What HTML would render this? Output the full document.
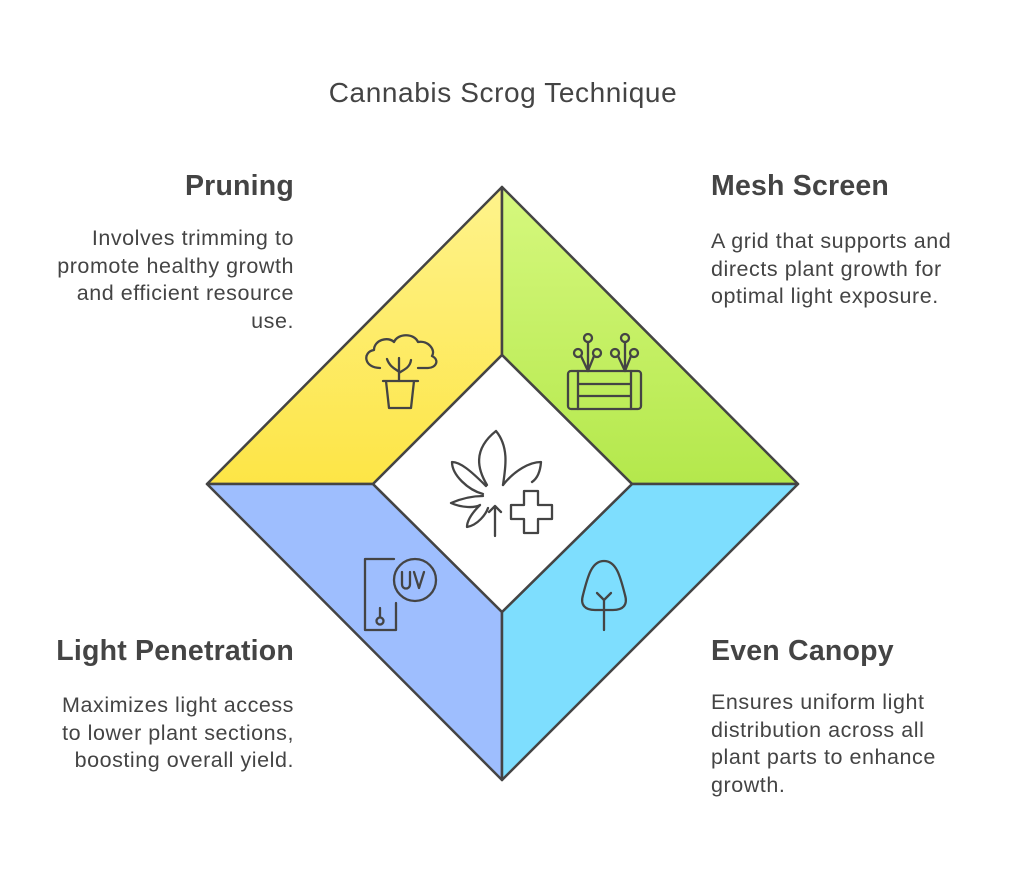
<!DOCTYPE html>
<html><head><meta charset="utf-8"><style>
html,body{margin:0;padding:0;background:#fff}
body{width:1024px;height:876px;position:relative;font-family:"Liberation Sans",sans-serif;color:#444}
.t{position:absolute;white-space:nowrap}
.h{font-weight:bold;font-size:28.5px;color:#444;letter-spacing:0.2px}
.b{font-size:21.5px;line-height:27.5px;color:#444;letter-spacing:0.55px}
.r{text-align:right}
</style></head><body>
<svg width="1024" height="876" style="position:absolute;left:0;top:0">
<defs>
<linearGradient id="y" x1="0" y1="0" x2="0" y2="1"><stop offset="0" stop-color="#FEF38C"/><stop offset="1" stop-color="#FDE546"/></linearGradient>
<linearGradient id="g" x1="0" y1="0" x2="0" y2="1"><stop offset="0" stop-color="#D6F87E"/><stop offset="1" stop-color="#B4E84C"/></linearGradient>
</defs>
<g stroke="#444" stroke-width="2.5" stroke-linejoin="round">
<polygon points="502,187 502,355 373,484 207,484" fill="url(#y)"/>
<polygon points="502,187 798,484 632,484 502,355" fill="url(#g)"/>
<polygon points="207,484 373,484 502,612 502,780" fill="#9EBEFE"/>
<polygon points="632,484 798,484 502,780 502,612" fill="#7EDEFE"/>
<polygon points="502,355 632,484 502,612 373,484" fill="#fff"/>
</g>
<g fill="none" stroke="#444" stroke-width="2.3" stroke-linecap="round" stroke-linejoin="round">
<path d="M380,368 C364,368 362,352 374,350 C374,340 388,336 394,342 C398,333 414,333 418,342 C428,340 436,350 432,356 C440,360 436,368 428,368 L418,368"/>
<path d="M399,358 L399,381 M387,359 C390,368 398,370 399,372 M411,360 C410,368 403,370 399,373"/>
<path d="M383,381 L418,381 M386,381 L389,408 L411,408 L414,381"/>
<rect x="568" y="371" width="73" height="38" rx="3"/>
<path d="M578,371 L578,409 M631,371 L631,409 M578,384 L631,384 M578,396 L631,396"/>
<circle cx="588" cy="338" r="4"/><circle cx="578" cy="353" r="4"/><circle cx="597" cy="353" r="4"/>
<circle cx="625" cy="338" r="4"/><circle cx="615" cy="353" r="4"/><circle cx="634" cy="353" r="4"/>
<path d="M588,342 L588,371 M581,356 L588,371 M594,356 L588,371 M625,342 L625,371 M618,356 L625,371 M631,356 L625,371"/>
<path d="M487,485 C478,470 472,450 496,431 C510,448 505,470 503,485"/>
<path d="M486,486 C470,470 460,462 452,462 C452,475 468,490 483,494"/>
<path d="M503,485 C515,470 530,462 541,462 C540,475 535,480 532,482"/>
<path d="M483,496 C470,496 458,500 451,503 C462,508 475,508 480,505 C470,515 467,522 467,527 C478,525 486,514 488,508"/>
<path d="M495,506 L495,536 M489,512 L495,506 L501,512"/>
<path d="M524,491 L538,491 L538,505 L552,505 L552,519 L538,519 L538,533 L524,533 L524,519 L511,519 L511,505 L524,505 Z"/>
<path d="M394,559 L365,559 L365,630 L396,630 L396,603"/>
<circle cx="415" cy="580" r="21"/>
<path d="M402,572 L402,584 C402,590 410,590 410,584 L410,572 M414,572 L419,588 L424,572"/>
<circle cx="380" cy="621" r="3.5"/><path d="M380,617 L380,608"/>
<path d="M604,630 L604,600 M597,593 L604,600 L611,593"/>
<path d="M604,561 C592,561 588,575 583,595 C580,605 585,610 595,610 L613,610 C623,610 628,605 625,595 C620,575 616,561 604,561 Z"/>
</g>
</svg>
<div class="t" style="left:0;width:1006px;text-align:center;top:77px;font-size:28px;letter-spacing:0.6px;color:#444">Cannabis Scrog Technique</div>
<div class="t h r" style="right:730px;top:170px">Pruning</div>
<div class="t b r" style="right:730px;top:225px">Involves trimming to<br>promote healthy growth<br>and efficient resource<br>use.</div>
<div class="t h" style="left:711px;top:170px">Mesh Screen</div>
<div class="t b" style="left:711px;top:228px">A grid that supports and<br>directs plant growth for<br>optimal light exposure.</div>
<div class="t h r" style="right:730px;top:635px">Light Penetration</div>
<div class="t b r" style="right:730px;top:692px">Maximizes light access<br>to lower plant sections,<br>boosting overall yield.</div>
<div class="t h" style="left:711px;top:635px">Even Canopy</div>
<div class="t b" style="left:711px;top:689px">Ensures uniform light<br>distribution across all<br>plant parts to enhance<br>growth.</div>
</body></html>
